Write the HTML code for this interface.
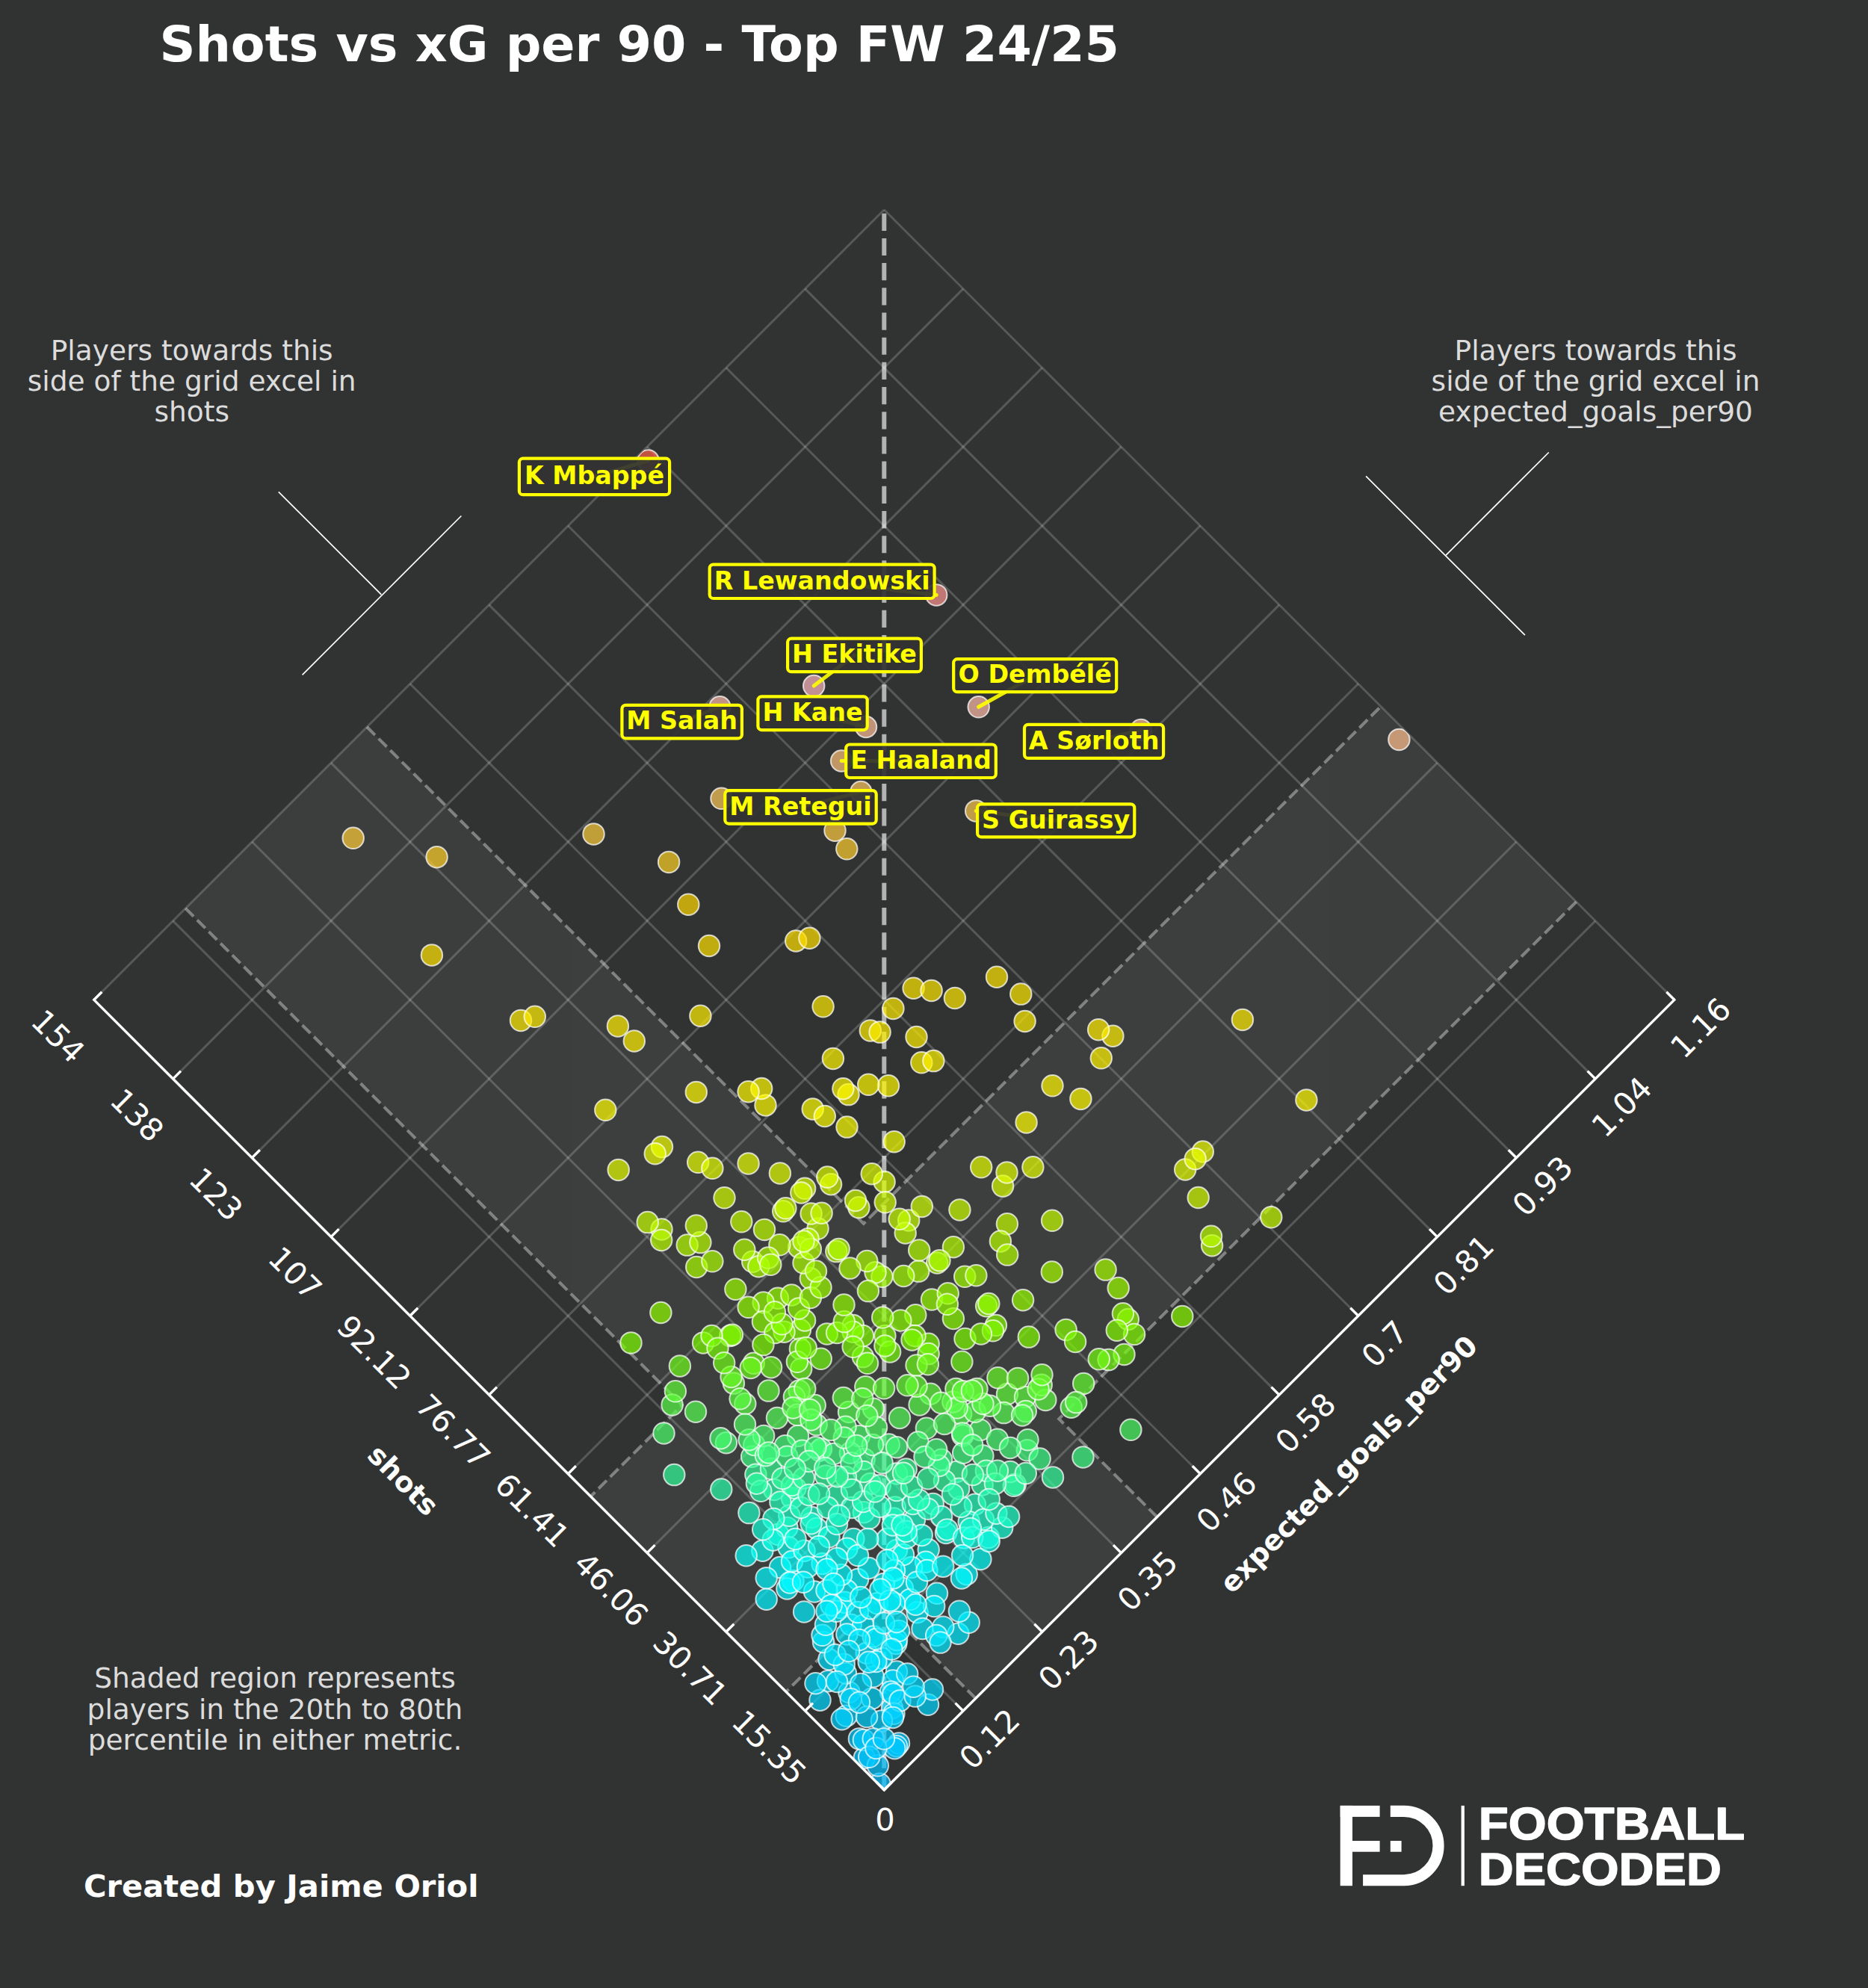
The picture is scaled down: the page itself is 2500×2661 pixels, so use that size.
<!DOCTYPE html>
<html><head><meta charset="utf-8"><title>Shots vs xG per 90</title>
<style>html,body{margin:0;padding:0;background:#313332;}svg{display:block}</style></head>
<body>
<svg width="2500" height="2661" viewBox="0 0 2500 2661">
<rect width="2500" height="2661" fill="#313332"/>
<g opacity="0.056" fill="#fff">
<polygon points="1052.1,2264.6 790.5,2003.0 1848.0,945.5 2109.6,1207.1" />
<polygon points="1305.7,2273.4 1548.6,2030.5 491.1,973.0 248.2,1215.9" />
</g>
<g stroke="#fff" stroke-opacity="0.19" stroke-width="3">
<line x1="1077.5" y1="2290.1" x2="2135.1" y2="1232.6" />
<line x1="1289.0" y1="2290.1" x2="231.5" y2="1232.6" />
<line x1="971.8" y1="2184.3" x2="2029.3" y2="1126.8" />
<line x1="1394.8" y1="2184.3" x2="337.3" y2="1126.8" />
<line x1="866.0" y1="2078.6" x2="1923.5" y2="1021.1" />
<line x1="1500.5" y1="2078.6" x2="443.0" y2="1021.1" />
<line x1="760.3" y1="1972.8" x2="1817.8" y2="915.3" />
<line x1="1606.3" y1="1972.8" x2="548.8" y2="915.3" />
<line x1="654.5" y1="1867.1" x2="1712.0" y2="809.6" />
<line x1="1712.0" y1="1867.1" x2="654.5" y2="809.6" />
<line x1="548.8" y1="1761.3" x2="1606.3" y2="703.8" />
<line x1="1817.8" y1="1761.3" x2="760.3" y2="703.8" />
<line x1="443.0" y1="1655.6" x2="1500.5" y2="598.1" />
<line x1="1923.5" y1="1655.6" x2="866.0" y2="598.1" />
<line x1="337.3" y1="1549.8" x2="1394.8" y2="492.3" />
<line x1="2029.3" y1="1549.8" x2="971.8" y2="492.3" />
<line x1="231.5" y1="1444.1" x2="1289.0" y2="386.6" />
<line x1="2135.1" y1="1444.1" x2="1077.5" y2="386.6" />
<line x1="125.8" y1="1338.3" x2="1183.3" y2="280.8" />
<line x1="2240.8" y1="1338.3" x2="1183.3" y2="280.8" />
</g>
<g stroke="#fff" stroke-opacity="0.37" stroke-width="4.1" stroke-dasharray="15.4 6.7" fill="none">
<polyline points="491.1,973.0 1155.8,1637.8 1848.0,945.5"/>
<polyline points="1548.6,2030.5 1417.3,1899.3 2109.6,1207.1"/>
<polyline points="248.2,1215.9 912.9,1880.7 790.5,2003.0"/>
<polyline points="1305.7,2273.4 1174.4,2142.2 1052.1,2264.6"/>
</g>
<line x1="1183.3" y1="285.7" x2="1183.3" y2="2395.8" stroke="#fff" stroke-opacity="0.63" stroke-width="6" stroke-dasharray="23.2 9.99"/>
<defs><clipPath id="dc"><polygon points="1183.3,2395.8 125.8,1338.3 1183.3,280.8 2240.8,1338.3"/></clipPath></defs>
<g clip-path="url(#dc)" stroke="#fff" stroke-width="2" fill-opacity="0.7" stroke-opacity="0.72">
<circle cx="1173.9" cy="2146.2" r="14.25" fill="#00f3ff"/>
<circle cx="1227.7" cy="2158.2" r="14.25" fill="#00f1ff"/>
<circle cx="1060.0" cy="2005.2" r="14.25" fill="#25feb3"/>
<circle cx="1101.6" cy="1347.3" r="14.25" fill="#ffea00"/>
<circle cx="1008.7" cy="1824.8" r="14.25" fill="#71fc18"/>
<circle cx="1358.8" cy="1986.8" r="14.25" fill="#2dfea3"/>
<circle cx="1248.7" cy="2012.9" r="14.25" fill="#22feba"/>
<circle cx="1136.0" cy="1890.0" r="14.25" fill="#55fd50"/>
<circle cx="1158.3" cy="1856.3" r="14.25" fill="#63fd33"/>
<circle cx="1041.0" cy="1737.7" r="14.25" fill="#97fd00"/>
<circle cx="1109.5" cy="2221.0" r="14.25" fill="#00e3ff"/>
<circle cx="984.4" cy="1725.7" r="14.25" fill="#9cfd00"/>
<circle cx="1142.4" cy="2060.0" r="14.25" fill="#0effe3"/>
<circle cx="1226.5" cy="1388.0" r="14.25" fill="#fff000"/>
<circle cx="1070.9" cy="1780.0" r="14.25" fill="#84fc00"/>
<circle cx="1068.0" cy="1922.0" r="14.25" fill="#48fd6c"/>
<circle cx="1189.7" cy="1933.5" r="14.25" fill="#43fd75"/>
<circle cx="1164.9" cy="1986.0" r="14.25" fill="#2dfea3"/>
<circle cx="1125.2" cy="2152.2" r="14.25" fill="#00f2ff"/>
<circle cx="1136.4" cy="2265.2" r="14.25" fill="#00daff"/>
<circle cx="1291.5" cy="1792.0" r="14.25" fill="#7efc00"/>
<circle cx="1489.4" cy="1386.7" r="14.25" fill="#ffef00"/>
<circle cx="1479.6" cy="1699.6" r="14.25" fill="#a7fd00"/>
<circle cx="1242.7" cy="2074.2" r="14.25" fill="#08ffef"/>
<circle cx="919.7" cy="1666.6" r="14.25" fill="#b6fd00"/>
<circle cx="1247.0" cy="1739.4" r="14.25" fill="#96fd00"/>
<circle cx="1348.0" cy="1866.0" r="14.25" fill="#5ffd3b"/>
<circle cx="1288.4" cy="1921.5" r="14.25" fill="#48fd6b"/>
<circle cx="1155.9" cy="2024.2" r="14.25" fill="#1dfec4"/>
<circle cx="1450.2" cy="1851.9" r="14.25" fill="#65fd2f"/>
<circle cx="1120.0" cy="2002.0" r="14.25" fill="#26feb1"/>
<circle cx="1189.0" cy="1453.3" r="14.25" fill="#fff800"/>
<circle cx="1041.4" cy="2053.9" r="14.25" fill="#10ffdd"/>
<circle cx="1372.0" cy="1870.0" r="14.25" fill="#5efd3f"/>
<circle cx="886.0" cy="1535.1" r="14.25" fill="#f0ff00"/>
<circle cx="1374.8" cy="1941.3" r="14.25" fill="#40fd7c"/>
<circle cx="1373.6" cy="1502.4" r="14.25" fill="#ffff00"/>
<circle cx="921.3" cy="1210.7" r="14.25" fill="#ffd700"/>
<circle cx="1148.0" cy="2114.0" r="14.25" fill="#00faff"/>
<circle cx="1200.0" cy="2075.0" r="14.25" fill="#07fff0"/>
<circle cx="1180.4" cy="1708.8" r="14.25" fill="#a3fd00"/>
<circle cx="1426.6" cy="1779.9" r="14.25" fill="#84fc00"/>
<circle cx="1216.2" cy="1633.4" r="14.25" fill="#c5fe00"/>
<circle cx="1077.1" cy="1767.5" r="14.25" fill="#89fc00"/>
<circle cx="1156.8" cy="2353.1" r="14.25" fill="#00c7ff"/>
<circle cx="1200.0" cy="2237.5" r="14.25" fill="#00e0ff"/>
<circle cx="1130.4" cy="2144.7" r="14.25" fill="#00f4ff"/>
<circle cx="1036.0" cy="1994.0" r="14.25" fill="#29feaa"/>
<circle cx="1053.4" cy="2044.9" r="14.25" fill="#14ffd6"/>
<circle cx="1024.5" cy="1479.4" r="14.25" fill="#fffc00"/>
<circle cx="1086.2" cy="2030.9" r="14.25" fill="#1afeca"/>
<circle cx="1196.3" cy="2032.4" r="14.25" fill="#19fecb"/>
<circle cx="1375.5" cy="1927.2" r="14.25" fill="#46fd70"/>
<circle cx="885.5" cy="1645.4" r="14.25" fill="#c0fe00"/>
<circle cx="1286.1" cy="1892.4" r="14.25" fill="#54fd52"/>
<circle cx="1184.4" cy="1788.0" r="14.25" fill="#80fc00"/>
<circle cx="1509.8" cy="1766.0" r="14.25" fill="#8afc00"/>
<circle cx="1233.3" cy="1422.3" r="14.25" fill="#fff400"/>
<circle cx="1056.3" cy="2028.7" r="14.25" fill="#1bfec8"/>
<circle cx="1006.2" cy="1949.7" r="14.25" fill="#3cfe83"/>
<circle cx="1254.2" cy="1690.4" r="14.25" fill="#acfd00"/>
<circle cx="1194.9" cy="2249.5" r="14.25" fill="#00ddff"/>
<circle cx="1069.6" cy="1861.6" r="14.25" fill="#61fd37"/>
<circle cx="1138.7" cy="2174.7" r="14.25" fill="#00edff"/>
<circle cx="1662.9" cy="1364.9" r="14.25" fill="#ffec00"/>
<circle cx="934.2" cy="1555.8" r="14.25" fill="#e7fe00"/>
<circle cx="1234.5" cy="2179.9" r="14.25" fill="#00ecff"/>
<circle cx="1021.7" cy="1743.4" r="14.25" fill="#94fd00"/>
<circle cx="1070.9" cy="1805.4" r="14.25" fill="#79fc07"/>
<circle cx="1293.7" cy="2107.2" r="14.25" fill="#00fcff"/>
<circle cx="1366.3" cy="1330.6" r="14.25" fill="#ffe800"/>
<circle cx="697.0" cy="1365.9" r="14.25" fill="#ffed00"/>
<circle cx="1062.9" cy="1869.7" r="14.25" fill="#5efd3e"/>
<circle cx="1149.9" cy="1922.2" r="14.25" fill="#48fd6c"/>
<circle cx="1183.6" cy="1582.0" r="14.25" fill="#dcfe00"/>
<circle cx="1069.1" cy="1669.5" r="14.25" fill="#b5fd00"/>
<circle cx="1156.7" cy="1953.0" r="14.25" fill="#3bfe86"/>
<circle cx="1399.3" cy="1873.9" r="14.25" fill="#5cfd42"/>
<circle cx="1187.4" cy="2060.0" r="14.25" fill="#0effe3"/>
<circle cx="1439.1" cy="1796.0" r="14.25" fill="#7dfc00"/>
<circle cx="1203.0" cy="2333.4" r="14.25" fill="#00cbff"/>
<circle cx="1155.2" cy="2175.4" r="14.25" fill="#00edff"/>
<circle cx="844.5" cy="1797.4" r="14.25" fill="#7cfc00"/>
<circle cx="1314.7" cy="1987.5" r="14.25" fill="#2cfea4"/>
<circle cx="1622.1" cy="1667.2" r="14.25" fill="#b6fd00"/>
<circle cx="1135.5" cy="1465.1" r="14.25" fill="#fffa00"/>
<circle cx="1304.9" cy="2013.7" r="14.25" fill="#21febb"/>
<circle cx="953.4" cy="1563.8" r="14.25" fill="#e4fe00"/>
<circle cx="1087.7" cy="1484.4" r="14.25" fill="#fffd00"/>
<circle cx="977.2" cy="1788.0" r="14.25" fill="#80fc00"/>
<circle cx="1277.9" cy="1336.0" r="14.25" fill="#ffe800"/>
<circle cx="1171.5" cy="1703.2" r="14.25" fill="#a6fd00"/>
<circle cx="1043.9" cy="1570.4" r="14.25" fill="#e1fe00"/>
<circle cx="1275.4" cy="1876.4" r="14.25" fill="#5bfd44"/>
<circle cx="1108.0" cy="2018.0" r="14.25" fill="#1ffebe"/>
<circle cx="1106.8" cy="1785.4" r="14.25" fill="#81fc00"/>
<circle cx="1296.7" cy="2036.9" r="14.25" fill="#17fecf"/>
<circle cx="1268.7" cy="1731.3" r="14.25" fill="#99fd00"/>
<circle cx="1306.2" cy="1085.4" r="14.25" fill="#ffc950"/>
<circle cx="1011.4" cy="1973.7" r="14.25" fill="#32fe98"/>
<circle cx="1245.3" cy="1865.7" r="14.25" fill="#5ffd3b"/>
<circle cx="1019.2" cy="1457.0" r="14.25" fill="#fff900"/>
<circle cx="1001.6" cy="1749.8" r="14.25" fill="#91fc00"/>
<circle cx="1102.0" cy="2197.9" r="14.25" fill="#00e8ff"/>
<circle cx="1169.0" cy="1885.7" r="14.25" fill="#57fd4c"/>
<circle cx="1009.3" cy="1933.9" r="14.25" fill="#43fd76"/>
<circle cx="1090.7" cy="1881.0" r="14.25" fill="#59fd48"/>
<circle cx="1128.8" cy="1871.0" r="14.25" fill="#5dfd3f"/>
<circle cx="1133.4" cy="2187.4" r="14.25" fill="#00eaff"/>
<circle cx="1133.4" cy="2129.0" r="14.25" fill="#00f7ff"/>
<circle cx="1023.0" cy="1645.9" r="14.25" fill="#bffe00"/>
<circle cx="1177.7" cy="1988.2" r="14.25" fill="#2cfea5"/>
<circle cx="1032.0" cy="1966.0" r="14.25" fill="#35fe92"/>
<circle cx="876.7" cy="1544.2" r="14.25" fill="#ecff00"/>
<circle cx="1032.1" cy="1830.2" r="14.25" fill="#6efc1c"/>
<circle cx="1504.5" cy="1812.9" r="14.25" fill="#76fc0d"/>
<circle cx="1266.0" cy="2051.9" r="14.25" fill="#11ffdc"/>
<circle cx="1242.6" cy="1798.7" r="14.25" fill="#7bfc01"/>
<circle cx="1249.4" cy="1420.1" r="14.25" fill="#fff400"/>
<circle cx="827.7" cy="1565.9" r="14.25" fill="#e3fe00"/>
<circle cx="1312.0" cy="1914.0" r="14.25" fill="#4bfd65"/>
<circle cx="1133.4" cy="2072.7" r="14.25" fill="#08ffee"/>
<circle cx="1141.8" cy="1773.9" r="14.25" fill="#86fc00"/>
<circle cx="1199.3" cy="2200.0" r="14.25" fill="#00e8ff"/>
<circle cx="1093.0" cy="2045.9" r="14.25" fill="#14ffd7"/>
<circle cx="1109.5" cy="2057.2" r="14.25" fill="#0fffe0"/>
<circle cx="1200.0" cy="1937.2" r="14.25" fill="#41fd79"/>
<circle cx="1094.5" cy="1644.6" r="14.25" fill="#c0fe00"/>
<circle cx="1159.7" cy="2212.7" r="14.25" fill="#00e5ff"/>
<circle cx="1020.4" cy="2075.7" r="14.25" fill="#07fff0"/>
<circle cx="1315.4" cy="1948.5" r="14.25" fill="#3dfe82"/>
<circle cx="1286.2" cy="2016.7" r="14.25" fill="#20febd"/>
<circle cx="1156.0" cy="1970.0" r="14.25" fill="#34fe95"/>
<circle cx="1239.9" cy="1911.8" r="14.25" fill="#4cfd63"/>
<circle cx="1343.4" cy="1891.1" r="14.25" fill="#55fd51"/>
<circle cx="1154.9" cy="1816.1" r="14.25" fill="#74fc10"/>
<circle cx="1168.7" cy="2244.2" r="14.25" fill="#00deff"/>
<circle cx="1004.7" cy="1830.9" r="14.25" fill="#6efc1d"/>
<circle cx="1179.9" cy="2219.5" r="14.25" fill="#00e4ff"/>
<circle cx="1280.0" cy="1970.0" r="14.25" fill="#34fe95"/>
<circle cx="1163.4" cy="2032.4" r="14.25" fill="#19fecb"/>
<circle cx="1018.2" cy="1995.8" r="14.25" fill="#29feab"/>
<circle cx="1065.2" cy="1259.5" r="14.25" fill="#ffde00"/>
<circle cx="1194.0" cy="2286.2" r="14.25" fill="#00d5ff"/>
<circle cx="1077.1" cy="1590.8" r="14.25" fill="#d8fe00"/>
<circle cx="1304.8" cy="1889.7" r="14.25" fill="#55fd50"/>
<circle cx="1007.2" cy="1688.8" r="14.25" fill="#acfd00"/>
<circle cx="1024.9" cy="1948.2" r="14.25" fill="#3dfe82"/>
<circle cx="1154.3" cy="1872.3" r="14.25" fill="#5dfd41"/>
<circle cx="1166.7" cy="1571.2" r="14.25" fill="#e0fe00"/>
<circle cx="979.9" cy="1786.7" r="14.25" fill="#81fc00"/>
<circle cx="1049.5" cy="1782.7" r="14.25" fill="#83fc00"/>
<circle cx="1229.3" cy="1701.6" r="14.25" fill="#a7fd00"/>
<circle cx="1148.0" cy="2158.0" r="14.25" fill="#00f1ff"/>
<circle cx="1044.0" cy="2098.0" r="14.25" fill="#00feff"/>
<circle cx="1152.3" cy="1060.0" r="14.25" fill="#ffc760"/>
<circle cx="1164.8" cy="1379.4" r="14.25" fill="#ffee00"/>
<circle cx="1208.0" cy="2126.0" r="14.25" fill="#00f8ff"/>
<circle cx="1408.5" cy="1453.3" r="14.25" fill="#fff800"/>
<circle cx="1154.9" cy="1788.0" r="14.25" fill="#80fc00"/>
<circle cx="1072.2" cy="1832.2" r="14.25" fill="#6dfc1e"/>
<circle cx="1084.8" cy="1711.3" r="14.25" fill="#a2fd00"/>
<circle cx="1191.9" cy="2264.5" r="14.25" fill="#00daff"/>
<circle cx="1044.4" cy="2010.4" r="14.25" fill="#23feb8"/>
<circle cx="1100.5" cy="2188.8" r="14.25" fill="#00eaff"/>
<circle cx="1108.0" cy="2250.2" r="14.25" fill="#00ddff"/>
<circle cx="963.4" cy="946.3" r="14.25" fill="#ffbaaa"/>
<circle cx="941.1" cy="1797.4" r="14.25" fill="#7cfc00"/>
<circle cx="1097.5" cy="2275.7" r="14.25" fill="#00d7ff"/>
<circle cx="1059.4" cy="1733.4" r="14.25" fill="#98fd00"/>
<circle cx="1282.4" cy="2186.7" r="14.25" fill="#00ebff"/>
<circle cx="1211.7" cy="1650.5" r="14.25" fill="#bdfd00"/>
<circle cx="1279.4" cy="1859.0" r="14.25" fill="#62fd35"/>
<circle cx="1218.0" cy="2140.9" r="14.25" fill="#00f5ff"/>
<circle cx="1141.6" cy="1782.7" r="14.25" fill="#83fc00"/>
<circle cx="1020.9" cy="1769.1" r="14.25" fill="#89fc00"/>
<circle cx="1320.1" cy="1748.2" r="14.25" fill="#92fd00"/>
<circle cx="888.5" cy="1918.5" r="14.25" fill="#49fd68"/>
<circle cx="1225.3" cy="1760.2" r="14.25" fill="#8dfc00"/>
<circle cx="1132.7" cy="2296.7" r="14.25" fill="#00d3ff"/>
<circle cx="1137.9" cy="1944.7" r="14.25" fill="#3efd7f"/>
<circle cx="1332.9" cy="1773.9" r="14.25" fill="#86fc00"/>
<circle cx="1239.0" cy="2090.7" r="14.25" fill="#01fffd"/>
<circle cx="1112.1" cy="1585.2" r="14.25" fill="#dafe00"/>
<circle cx="1061.5" cy="2116.0" r="14.25" fill="#00faff"/>
<circle cx="1200.0" cy="1972.5" r="14.25" fill="#33fe97"/>
<circle cx="1200.0" cy="2337.2" r="14.25" fill="#00caff"/>
<circle cx="1195.5" cy="2267.5" r="14.25" fill="#00d9ff"/>
<circle cx="715.8" cy="1360.8" r="14.25" fill="#ffec00"/>
<circle cx="1220.0" cy="2098.0" r="14.25" fill="#00feff"/>
<circle cx="1393.7" cy="1853.8" r="14.25" fill="#64fd31"/>
<circle cx="1483.6" cy="1820.1" r="14.25" fill="#73fc13"/>
<circle cx="1022.1" cy="1921.9" r="14.25" fill="#48fd6b"/>
<circle cx="1260.0" cy="2030.0" r="14.25" fill="#1afec9"/>
<circle cx="1197.3" cy="2340.2" r="14.25" fill="#00c9ff"/>
<circle cx="1242.6" cy="1812.1" r="14.25" fill="#76fc0d"/>
<circle cx="1069.1" cy="1751.4" r="14.25" fill="#90fc00"/>
<circle cx="866.7" cy="1636.1" r="14.25" fill="#c4fe00"/>
<circle cx="1103.8" cy="1494.0" r="14.25" fill="#fffe00"/>
<circle cx="1212.7" cy="1966.5" r="14.25" fill="#35fe92"/>
<circle cx="1043.4" cy="1666.3" r="14.25" fill="#b6fd00"/>
<circle cx="1196.4" cy="2293.7" r="14.25" fill="#00d3ff"/>
<circle cx="1179.9" cy="2303.4" r="14.25" fill="#00d1ff"/>
<circle cx="1168.0" cy="1934.0" r="14.25" fill="#43fd76"/>
<circle cx="1275.9" cy="1765.0" r="14.25" fill="#8afc00"/>
<circle cx="1015.3" cy="1695.2" r="14.25" fill="#a9fd00"/>
<circle cx="937.4" cy="1663.1" r="14.25" fill="#b8fd00"/>
<circle cx="1096.7" cy="1941.7" r="14.25" fill="#3ffd7d"/>
<circle cx="1287.4" cy="1822.8" r="14.25" fill="#71fc16"/>
<circle cx="1085.5" cy="2039.2" r="14.25" fill="#17fed1"/>
<circle cx="1072.3" cy="1596.4" r="14.25" fill="#d5fe00"/>
<circle cx="1372.8" cy="1889.1" r="14.25" fill="#56fd4f"/>
<circle cx="1352.0" cy="1970.0" r="14.25" fill="#34fe95"/>
<circle cx="1347.9" cy="1638.2" r="14.25" fill="#c3fe00"/>
<circle cx="1172.4" cy="2224.0" r="14.25" fill="#00e3ff"/>
<circle cx="1470.7" cy="1819.3" r="14.25" fill="#73fc13"/>
<circle cx="965.5" cy="1068.8" r="14.25" fill="#ffc85a"/>
<circle cx="1233.8" cy="1614.9" r="14.25" fill="#cdfe00"/>
<circle cx="1433.7" cy="1883.7" r="14.25" fill="#58fd4a"/>
<circle cx="1224.5" cy="1788.0" r="14.25" fill="#80fc00"/>
<circle cx="1149.9" cy="2327.4" r="14.25" fill="#00ccff"/>
<circle cx="1055.5" cy="2071.2" r="14.25" fill="#09ffec"/>
<circle cx="1098.7" cy="1818.8" r="14.25" fill="#73fc12"/>
<circle cx="902.3" cy="1974.1" r="14.25" fill="#32fe98"/>
<circle cx="472.7" cy="1121.8" r="14.25" fill="#ffcd38"/>
<circle cx="1066.9" cy="1893.8" r="14.25" fill="#54fd53"/>
<circle cx="867.6" cy="616.6" r="14.25" fill="#ff6347"/>
<circle cx="1099.0" cy="1939.5" r="14.25" fill="#40fd7b"/>
<circle cx="1037.4" cy="1784.0" r="14.25" fill="#82fc00"/>
<circle cx="1048.2" cy="1621.3" r="14.25" fill="#cafe00"/>
<circle cx="1168.7" cy="2190.4" r="14.25" fill="#00eaff"/>
<circle cx="1100.5" cy="2093.0" r="14.25" fill="#00ffff"/>
<circle cx="1002.4" cy="2025.1" r="14.25" fill="#1cfec5"/>
<circle cx="1140.0" cy="2018.0" r="14.25" fill="#1ffebe"/>
<circle cx="1262.2" cy="2177.7" r="14.25" fill="#00edff"/>
<circle cx="1035.4" cy="2032.9" r="14.25" fill="#19fecb"/>
<circle cx="1182.9" cy="2120.0" r="14.25" fill="#00f9ff"/>
<circle cx="1242.0" cy="2281.7" r="14.25" fill="#00d6ff"/>
<circle cx="1701.3" cy="1629.3" r="14.25" fill="#c7fe00"/>
<circle cx="1283.2" cy="1992.7" r="14.25" fill="#2afea9"/>
<circle cx="1527.0" cy="977.0" r="14.25" fill="#ffbd96"/>
<circle cx="1177.4" cy="2387.8" r="14.25" fill="#00bfff"/>
<circle cx="1105.0" cy="2174.7" r="14.25" fill="#00edff"/>
<circle cx="1513.4" cy="1913.8" r="14.25" fill="#4bfd64"/>
<circle cx="1200.0" cy="2194.9" r="14.25" fill="#00e9ff"/>
<circle cx="1284.4" cy="1619.4" r="14.25" fill="#cbfe00"/>
<circle cx="1253.2" cy="796.4" r="14.25" fill="#ff9691"/>
<circle cx="1183.1" cy="1858.3" r="14.25" fill="#62fd34"/>
<circle cx="1155.9" cy="2328.9" r="14.25" fill="#00ccff"/>
<circle cx="1116.0" cy="1946.0" r="14.25" fill="#3efe80"/>
<circle cx="1066.9" cy="1822.8" r="14.25" fill="#71fc16"/>
<circle cx="1050.8" cy="1935.2" r="14.25" fill="#42fd77"/>
<circle cx="1227.0" cy="2117.7" r="14.25" fill="#00faff"/>
<circle cx="1254.0" cy="2132.7" r="14.25" fill="#00f6ff"/>
<circle cx="909.9" cy="1828.4" r="14.25" fill="#6ffc1b"/>
<circle cx="1324.9" cy="1881.7" r="14.25" fill="#59fd49"/>
<circle cx="1264.0" cy="1982.0" r="14.25" fill="#2ffe9f"/>
<circle cx="1092.7" cy="1907.1" r="14.25" fill="#4efd5f"/>
<circle cx="1342.1" cy="1587.6" r="14.25" fill="#d9fe00"/>
<circle cx="1335.4" cy="1844.2" r="14.25" fill="#68fc28"/>
<circle cx="1076.1" cy="2157.4" r="14.25" fill="#00f1ff"/>
<circle cx="1126.0" cy="2108.0" r="14.25" fill="#00fcff"/>
<circle cx="1197.8" cy="2017.4" r="14.25" fill="#20febe"/>
<circle cx="1126.7" cy="2301.2" r="14.25" fill="#00d2ff"/>
<circle cx="1085.6" cy="1624.5" r="14.25" fill="#c9fe00"/>
<circle cx="1609.8" cy="1541.5" r="14.25" fill="#eeff00"/>
<circle cx="1025.7" cy="2112.2" r="14.25" fill="#00fbff"/>
<circle cx="1446.4" cy="1470.9" r="14.25" fill="#fffb00"/>
<circle cx="1083.4" cy="1255.7" r="14.25" fill="#ffde00"/>
<circle cx="1053.4" cy="2126.5" r="14.25" fill="#00f8ff"/>
<circle cx="1280.7" cy="1884.4" r="14.25" fill="#58fd4b"/>
<circle cx="1322.9" cy="2057.9" r="14.25" fill="#0fffe1"/>
<circle cx="1289.2" cy="1944.7" r="14.25" fill="#3efd7f"/>
<circle cx="1274.9" cy="2000.2" r="14.25" fill="#27feaf"/>
<circle cx="1173.0" cy="1910.5" r="14.25" fill="#4dfd62"/>
<circle cx="931.8" cy="1640.6" r="14.25" fill="#c2fe00"/>
<circle cx="1341.2" cy="2044.7" r="14.25" fill="#14ffd6"/>
<circle cx="1248.0" cy="2261.5" r="14.25" fill="#00daff"/>
<circle cx="1126.1" cy="1018.5" r="14.25" fill="#ffc27b"/>
<circle cx="949.0" cy="1266.0" r="14.25" fill="#ffdf00"/>
<circle cx="1209.0" cy="2081.0" r="14.25" fill="#05fff5"/>
<circle cx="1172.4" cy="2194.0" r="14.25" fill="#00e9ff"/>
<circle cx="1259.3" cy="1877.7" r="14.25" fill="#5afd45"/>
<circle cx="1312.4" cy="2087.0" r="14.25" fill="#02fffa"/>
<circle cx="1167.2" cy="2273.4" r="14.25" fill="#00d8ff"/>
<circle cx="1203.7" cy="1631.8" r="14.25" fill="#c6fe00"/>
<circle cx="1155.2" cy="2009.9" r="14.25" fill="#23feb7"/>
<circle cx="1291.2" cy="1708.8" r="14.25" fill="#a3fd00"/>
<circle cx="1168.7" cy="2327.4" r="14.25" fill="#00ccff"/>
<circle cx="1107.3" cy="1575.6" r="14.25" fill="#defe00"/>
<circle cx="1064.5" cy="1991.9" r="14.25" fill="#2afea8"/>
<circle cx="1131.5" cy="1909.8" r="14.25" fill="#4dfd61"/>
<circle cx="1306.4" cy="1707.2" r="14.25" fill="#a4fd00"/>
<circle cx="1162.7" cy="2224.7" r="14.25" fill="#00e2ff"/>
<circle cx="1267.5" cy="2047.4" r="14.25" fill="#13ffd8"/>
<circle cx="1203.0" cy="2182.9" r="14.25" fill="#00ebff"/>
<circle cx="1334.9" cy="1926.7" r="14.25" fill="#46fd70"/>
<circle cx="1289.9" cy="2058.5" r="14.25" fill="#0effe1"/>
<circle cx="1301.2" cy="2057.8" r="14.25" fill="#0fffe1"/>
<circle cx="1230.6" cy="1880.4" r="14.25" fill="#59fd48"/>
<circle cx="1226.5" cy="1827.5" r="14.25" fill="#6ffc1a"/>
<circle cx="1089.2" cy="918.1" r="14.25" fill="#ffb7bd"/>
<circle cx="1075.5" cy="1690.4" r="14.25" fill="#acfd00"/>
<circle cx="1296.7" cy="2171.7" r="14.25" fill="#00eeff"/>
<circle cx="899.6" cy="1880.4" r="14.25" fill="#59fd48"/>
<circle cx="1131.9" cy="2239.7" r="14.25" fill="#00dfff"/>
<circle cx="981.9" cy="1851.6" r="14.25" fill="#65fd2f"/>
<circle cx="1391.6" cy="1952.6" r="14.25" fill="#3bfe86"/>
<circle cx="997.3" cy="1879.0" r="14.25" fill="#5afd46"/>
<circle cx="1081.6" cy="1658.3" r="14.25" fill="#bafd00"/>
<circle cx="990.6" cy="1872.3" r="14.25" fill="#5dfd41"/>
<circle cx="1518.1" cy="1786.0" r="14.25" fill="#81fc00"/>
<circle cx="1025.7" cy="2140.7" r="14.25" fill="#00f5ff"/>
<circle cx="1120.0" cy="2039.9" r="14.25" fill="#16fed1"/>
<circle cx="1060.0" cy="2090.0" r="14.25" fill="#01fffd"/>
<circle cx="1253.2" cy="2188.9" r="14.25" fill="#00eaff"/>
<circle cx="1028.5" cy="1861.6" r="14.25" fill="#61fd37"/>
<circle cx="1586.2" cy="1565.5" r="14.25" fill="#e3fe00"/>
<circle cx="1076.5" cy="2075.7" r="14.25" fill="#07fff0"/>
<circle cx="1224.0" cy="2034.0" r="14.25" fill="#19fecc"/>
<circle cx="1240.5" cy="2102.0" r="14.25" fill="#00fdff"/>
<circle cx="1316.0" cy="2034.0" r="14.25" fill="#19fecc"/>
<circle cx="1502.9" cy="1758.3" r="14.25" fill="#8dfc00"/>
<circle cx="1081.0" cy="2097.5" r="14.25" fill="#00feff"/>
<circle cx="996.3" cy="1672.7" r="14.25" fill="#b3fd00"/>
<circle cx="1356.8" cy="1988.8" r="14.25" fill="#2cfea5"/>
<circle cx="1352.0" cy="1938.0" r="14.25" fill="#41fd79"/>
<circle cx="1028.1" cy="1683.6" r="14.25" fill="#affd00"/>
<circle cx="1315.5" cy="1879.0" r="14.25" fill="#5afd46"/>
<circle cx="895.1" cy="1153.9" r="14.25" fill="#ffd123"/>
<circle cx="1347.5" cy="1569.4" r="14.25" fill="#e1fe00"/>
<circle cx="1196.7" cy="1528.2" r="14.25" fill="#f4ff00"/>
<circle cx="1213.5" cy="2058.5" r="14.25" fill="#0effe1"/>
<circle cx="1120.1" cy="1784.0" r="14.25" fill="#82fc00"/>
<circle cx="1319.9" cy="1968.7" r="14.25" fill="#34fe94"/>
<circle cx="1046.6" cy="1772.3" r="14.25" fill="#87fc00"/>
<circle cx="1260.0" cy="1953.7" r="14.25" fill="#3afe87"/>
<circle cx="1496.7" cy="1724.1" r="14.25" fill="#9dfd00"/>
<circle cx="1001.6" cy="1461.2" r="14.25" fill="#fff900"/>
<circle cx="885.2" cy="1659.9" r="14.25" fill="#b9fd00"/>
<circle cx="1002.6" cy="1927.2" r="14.25" fill="#46fd70"/>
<circle cx="1133.5" cy="1508.6" r="14.25" fill="#fcff00"/>
<circle cx="1090.0" cy="2130.4" r="14.25" fill="#00f7ff"/>
<circle cx="1205.3" cy="1767.5" r="14.25" fill="#89fc00"/>
<circle cx="1333.4" cy="2025.7" r="14.25" fill="#1cfec5"/>
<circle cx="1204.5" cy="2276.4" r="14.25" fill="#00d7ff"/>
<circle cx="1334.0" cy="1307.7" r="14.25" fill="#ffe500"/>
<circle cx="1177.7" cy="2016.7" r="14.25" fill="#20febd"/>
<circle cx="1288.0" cy="2082.0" r="14.25" fill="#05fff6"/>
<circle cx="1162.7" cy="2099.0" r="14.25" fill="#00feff"/>
<circle cx="932.2" cy="1696.0" r="14.25" fill="#a9fd00"/>
<circle cx="1060.0" cy="1988.0" r="14.25" fill="#2cfea4"/>
<circle cx="1184.7" cy="1609.3" r="14.25" fill="#d0fe00"/>
<circle cx="1160.0" cy="2298.0" r="14.25" fill="#00d3ff"/>
<circle cx="1194.9" cy="2041.4" r="14.25" fill="#16fed3"/>
<circle cx="884.4" cy="1757.0" r="14.25" fill="#8efc00"/>
<circle cx="1160.3" cy="1895.1" r="14.25" fill="#53fd54"/>
<circle cx="1129.7" cy="2227.7" r="14.25" fill="#00e2ff"/>
<circle cx="1332.0" cy="1986.0" r="14.25" fill="#2dfea3"/>
<circle cx="1257.0" cy="1962.0" r="14.25" fill="#37fe8e"/>
<circle cx="1053.4" cy="1949.7" r="14.25" fill="#3cfe83"/>
<circle cx="1072.0" cy="2018.0" r="14.25" fill="#1ffebe"/>
<circle cx="1028.7" cy="1944.5" r="14.25" fill="#3efd7f"/>
<circle cx="1197.0" cy="2102.0" r="14.25" fill="#00fdff"/>
<circle cx="1084.8" cy="1736.9" r="14.25" fill="#97fd00"/>
<circle cx="1275.9" cy="1669.2" r="14.25" fill="#b5fd00"/>
<circle cx="1323.7" cy="2063.0" r="14.25" fill="#0dffe5"/>
<circle cx="1233.7" cy="2054.9" r="14.25" fill="#10ffde"/>
<circle cx="1148.0" cy="2082.0" r="14.25" fill="#05fff6"/>
<circle cx="953.4" cy="1688.3" r="14.25" fill="#acfd00"/>
<circle cx="1389.6" cy="1859.4" r="14.25" fill="#62fd35"/>
<circle cx="992.3" cy="1635.3" r="14.25" fill="#c4fe00"/>
<circle cx="1152.0" cy="2254.0" r="14.25" fill="#00dcff"/>
<circle cx="1197.0" cy="2146.2" r="14.25" fill="#00f3ff"/>
<circle cx="1073.5" cy="1941.7" r="14.25" fill="#3ffd7d"/>
<circle cx="1098.5" cy="1723.3" r="14.25" fill="#9dfd00"/>
<circle cx="1141.6" cy="1802.8" r="14.25" fill="#7afc05"/>
<circle cx="1204.0" cy="1898.0" r="14.25" fill="#52fd57"/>
<circle cx="1099.6" cy="1623.7" r="14.25" fill="#c9fe00"/>
<circle cx="1440.2" cy="1877.1" r="14.25" fill="#5bfd45"/>
<circle cx="1164.9" cy="2152.9" r="14.25" fill="#00f2ff"/>
<circle cx="1228.5" cy="1930.5" r="14.25" fill="#44fd73"/>
<circle cx="1120.0" cy="2086.0" r="14.25" fill="#03fff9"/>
<circle cx="1057.0" cy="2118.5" r="14.25" fill="#00f9ff"/>
<circle cx="1133.3" cy="1136.3" r="14.25" fill="#ffcf2e"/>
<circle cx="1078.7" cy="1804.1" r="14.25" fill="#79fc06"/>
<circle cx="1212.7" cy="2049.7" r="14.25" fill="#12ffda"/>
<circle cx="1120.0" cy="2251.0" r="14.25" fill="#00ddff"/>
<circle cx="1334.9" cy="1968.7" r="14.25" fill="#34fe94"/>
<circle cx="1131.9" cy="1977.0" r="14.25" fill="#31fe9b"/>
<circle cx="1187.4" cy="2088.5" r="14.25" fill="#02fffb"/>
<circle cx="1237.5" cy="1950.0" r="14.25" fill="#3cfe84"/>
<circle cx="1376.8" cy="1789.6" r="14.25" fill="#80fc00"/>
<circle cx="1191.1" cy="1809.4" r="14.25" fill="#77fc0a"/>
<circle cx="1407.8" cy="1702.5" r="14.25" fill="#a6fd00"/>
<circle cx="1075.7" cy="1978.5" r="14.25" fill="#30fe9c"/>
<circle cx="1182.9" cy="2172.4" r="14.25" fill="#00eeff"/>
<circle cx="1222.6" cy="1322.7" r="14.25" fill="#ffe700"/>
<circle cx="1603.7" cy="1603.0" r="14.25" fill="#d2fe00"/>
<circle cx="1082.5" cy="2000.9" r="14.25" fill="#27feb0"/>
<circle cx="1174.8" cy="2363.3" r="14.25" fill="#00c4ff"/>
<circle cx="1139.4" cy="1958.2" r="14.25" fill="#39fe8b"/>
<circle cx="1195.5" cy="2112.5" r="14.25" fill="#00fbff"/>
<circle cx="1194.9" cy="2298.9" r="14.25" fill="#00d2ff"/>
<circle cx="1369.1" cy="1740.2" r="14.25" fill="#95fd00"/>
<circle cx="1350.1" cy="2030.0" r="14.25" fill="#1afec9"/>
<circle cx="1193.4" cy="2207.5" r="14.25" fill="#00e6ff"/>
<circle cx="1119.2" cy="2156.7" r="14.25" fill="#00f1ff"/>
<circle cx="1159.0" cy="973.0" r="14.25" fill="#ffbd99"/>
<circle cx="1250.2" cy="2149.9" r="14.25" fill="#00f3ff"/>
<circle cx="1288.1" cy="1918.5" r="14.25" fill="#49fd68"/>
<circle cx="1140.0" cy="1994.0" r="14.25" fill="#29feaa"/>
<circle cx="1040.0" cy="1898.0" r="14.25" fill="#52fd57"/>
<circle cx="1338.9" cy="1661.5" r="14.25" fill="#b8fd00"/>
<circle cx="971.9" cy="1931.2" r="14.25" fill="#44fd73"/>
<circle cx="1096.0" cy="2070.0" r="14.25" fill="#0affeb"/>
<circle cx="1149.4" cy="1616.2" r="14.25" fill="#ccfe00"/>
<circle cx="1221.7" cy="2012.9" r="14.25" fill="#22feba"/>
<circle cx="1242.0" cy="2019.7" r="14.25" fill="#1ffec0"/>
<circle cx="1047.4" cy="1979.0" r="14.25" fill="#30fe9d"/>
<circle cx="997.0" cy="1906.5" r="14.25" fill="#4efd5e"/>
<circle cx="1160.3" cy="1688.0" r="14.25" fill="#adfd00"/>
<circle cx="1226.5" cy="1855.6" r="14.25" fill="#64fd32"/>
<circle cx="1149.9" cy="2194.9" r="14.25" fill="#00e9ff"/>
<circle cx="1180.7" cy="1958.2" r="14.25" fill="#39fe8b"/>
<circle cx="1371.6" cy="1367.0" r="14.25" fill="#ffed00"/>
<circle cx="998.7" cy="2082.2" r="14.25" fill="#04fff6"/>
<circle cx="1253.2" cy="1940.2" r="14.25" fill="#40fd7b"/>
<circle cx="1091.5" cy="1937.2" r="14.25" fill="#41fd79"/>
<circle cx="1200.0" cy="1994.9" r="14.25" fill="#29feab"/>
<circle cx="1021.4" cy="1800.1" r="14.25" fill="#7bfc02"/>
<circle cx="1307.5" cy="1859.0" r="14.25" fill="#62fd35"/>
<circle cx="1161.0" cy="1824.8" r="14.25" fill="#71fc18"/>
<circle cx="952.5" cy="1788.0" r="14.25" fill="#80fc00"/>
<circle cx="1012.9" cy="1985.7" r="14.25" fill="#2dfea3"/>
<circle cx="1621.0" cy="1654.8" r="14.25" fill="#bbfd00"/>
<circle cx="1394.5" cy="1840.2" r="14.25" fill="#6afc25"/>
<circle cx="1323.3" cy="1745.0" r="14.25" fill="#93fd00"/>
<circle cx="1582.3" cy="1761.9" r="14.25" fill="#8cfc00"/>
<circle cx="826.9" cy="1373.4" r="14.25" fill="#ffee00"/>
<circle cx="1301.2" cy="1934.2" r="14.25" fill="#43fd76"/>
<circle cx="969.5" cy="1603.3" r="14.25" fill="#d2fe00"/>
<circle cx="1230.2" cy="1673.5" r="14.25" fill="#b3fd00"/>
<circle cx="1129.7" cy="1924.5" r="14.25" fill="#47fd6e"/>
<circle cx="1084.8" cy="1671.9" r="14.25" fill="#b4fd00"/>
<circle cx="978.6" cy="1842.9" r="14.25" fill="#69fc27"/>
<circle cx="1075.5" cy="1661.5" r="14.25" fill="#b8fd00"/>
<circle cx="794.5" cy="1116.4" r="14.25" fill="#ffcd3b"/>
<circle cx="1077.3" cy="1859.0" r="14.25" fill="#62fd35"/>
<circle cx="1082.5" cy="1956.0" r="14.25" fill="#39fe89"/>
<circle cx="1473.8" cy="1416.3" r="14.25" fill="#fff300"/>
<circle cx="931.8" cy="1461.9" r="14.25" fill="#fffa00"/>
<circle cx="1309.7" cy="946.3" r="14.25" fill="#ffbaaa"/>
<circle cx="1267.9" cy="1745.8" r="14.25" fill="#93fd00"/>
<circle cx="577.9" cy="1278.4" r="14.25" fill="#ffe100"/>
<circle cx="1145.0" cy="1606.9" r="14.25" fill="#d1fe00"/>
<circle cx="1214.5" cy="1854.3" r="14.25" fill="#64fd31"/>
<circle cx="1209.3" cy="1708.0" r="14.25" fill="#a4fd00"/>
<circle cx="1117.7" cy="2215.0" r="14.25" fill="#00e5ff"/>
<circle cx="1362.1" cy="1844.9" r="14.25" fill="#68fc29"/>
<circle cx="1408.1" cy="1633.8" r="14.25" fill="#c5fe00"/>
<circle cx="1163.2" cy="2351.8" r="14.25" fill="#00c7ff"/>
<circle cx="1230.0" cy="2007.7" r="14.25" fill="#24feb6"/>
<circle cx="960.5" cy="1804.8" r="14.25" fill="#79fc06"/>
<circle cx="810.3" cy="1485.8" r="14.25" fill="#fffd00"/>
<circle cx="1106.5" cy="2100.5" r="14.25" fill="#00fdff"/>
<circle cx="1146.2" cy="1935.0" r="14.25" fill="#42fd77"/>
<circle cx="1105.0" cy="1975.5" r="14.25" fill="#31fe9a"/>
<circle cx="848.8" cy="1393.5" r="14.25" fill="#fff000"/>
<circle cx="1313.2" cy="1562.3" r="14.25" fill="#e4fe00"/>
<circle cx="1264.0" cy="1906.0" r="14.25" fill="#4efd5e"/>
<circle cx="931.0" cy="1889.7" r="14.25" fill="#55fd50"/>
<circle cx="1075.0" cy="2117.7" r="14.25" fill="#00faff"/>
<circle cx="1061.5" cy="1884.4" r="14.25" fill="#58fd4b"/>
<circle cx="1092.0" cy="1701.6" r="14.25" fill="#a7fd00"/>
<circle cx="1117.5" cy="1111.7" r="14.25" fill="#ffcc3e"/>
<circle cx="1001.6" cy="1557.4" r="14.25" fill="#e7fe00"/>
<circle cx="1138.7" cy="2274.2" r="14.25" fill="#00d8ff"/>
<circle cx="903.9" cy="1862.3" r="14.25" fill="#61fd38"/>
<circle cx="1177.6" cy="1381.6" r="14.25" fill="#ffef00"/>
<circle cx="1191.2" cy="2142.4" r="14.25" fill="#00f4ff"/>
<circle cx="1494.8" cy="1780.7" r="14.25" fill="#83fc00"/>
<circle cx="1162.2" cy="1451.8" r="14.25" fill="#fff800"/>
<circle cx="1328.9" cy="1781.3" r="14.25" fill="#83fc00"/>
<circle cx="1170.9" cy="1996.4" r="14.25" fill="#28feac"/>
<circle cx="1220.0" cy="1990.0" r="14.25" fill="#2bfea6"/>
<circle cx="1312.9" cy="1785.4" r="14.25" fill="#81fc00"/>
<circle cx="1195.4" cy="1349.9" r="14.25" fill="#ffea00"/>
<circle cx="1382.4" cy="1562.3" r="14.25" fill="#e4fe00"/>
<circle cx="1257.5" cy="1687.2" r="14.25" fill="#adfd00"/>
<circle cx="1119.3" cy="1675.1" r="14.25" fill="#b2fd00"/>
<circle cx="1409.0" cy="1977.4" r="14.25" fill="#30fe9b"/>
<circle cx="1262.2" cy="2096.7" r="14.25" fill="#00feff"/>
<circle cx="1096.0" cy="1999.4" r="14.25" fill="#27feae"/>
<circle cx="1036.9" cy="1756.2" r="14.25" fill="#8efc00"/>
<circle cx="1123.0" cy="2028.7" r="14.25" fill="#1bfec8"/>
<circle cx="1323.7" cy="2006.9" r="14.25" fill="#24feb5"/>
<circle cx="1470.1" cy="1378.2" r="14.25" fill="#ffee00"/>
<circle cx="1449.5" cy="1950.4" r="14.25" fill="#3cfe84"/>
<circle cx="1372.8" cy="1972.1" r="14.25" fill="#33fe97"/>
<circle cx="1149.9" cy="2278.7" r="14.25" fill="#00d7ff"/>
<circle cx="1085.4" cy="1900.4" r="14.25" fill="#51fd59"/>
<circle cx="965.3" cy="1993.6" r="14.25" fill="#2afea9"/>
<circle cx="1129.8" cy="1769.1" r="14.25" fill="#89fc00"/>
<circle cx="1283.9" cy="2156.7" r="14.25" fill="#00f1ff"/>
<circle cx="1209.0" cy="1971.7" r="14.25" fill="#33fe96"/>
<circle cx="1051.4" cy="1617.3" r="14.25" fill="#ccfe00"/>
<circle cx="1242.0" cy="1979.2" r="14.25" fill="#30fe9d"/>
<circle cx="1161.2" cy="2060.0" r="14.25" fill="#0effe3"/>
<circle cx="1120.7" cy="1976.2" r="14.25" fill="#31fe9a"/>
<circle cx="1034.7" cy="2061.4" r="14.25" fill="#0dffe4"/>
<circle cx="1368.1" cy="1894.4" r="14.25" fill="#53fd54"/>
<circle cx="937.4" cy="1359.7" r="14.25" fill="#ffec00"/>
<circle cx="1064.5" cy="2060.0" r="14.25" fill="#0effe3"/>
<circle cx="1136.0" cy="2210.0" r="14.25" fill="#00e6ff"/>
<circle cx="1200.0" cy="2170.9" r="14.25" fill="#00eeff"/>
<circle cx="1301.9" cy="1974.0" r="14.25" fill="#32fe98"/>
<circle cx="1106.5" cy="2129.0" r="14.25" fill="#00f7ff"/>
<circle cx="1286.9" cy="2112.5" r="14.25" fill="#00fbff"/>
<circle cx="1152.0" cy="2138.0" r="14.25" fill="#00f5ff"/>
<circle cx="1258.5" cy="2198.6" r="14.25" fill="#00e8ff"/>
<circle cx="1288.8" cy="1862.3" r="14.25" fill="#61fd38"/>
<circle cx="964.5" cy="1925.2" r="14.25" fill="#46fd6e"/>
<circle cx="1021.2" cy="2047.2" r="14.25" fill="#13ffd8"/>
<circle cx="1137.5" cy="1697.6" r="14.25" fill="#a8fd00"/>
<circle cx="1114.9" cy="1416.9" r="14.25" fill="#fff300"/>
<circle cx="1031.3" cy="1692.8" r="14.25" fill="#aafd00"/>
<circle cx="1298.9" cy="2045.9" r="14.25" fill="#14ffd7"/>
<circle cx="1122.6" cy="1671.9" r="14.25" fill="#b4fd00"/>
<circle cx="1091.5" cy="2253.2" r="14.25" fill="#00dcff"/>
<circle cx="1112.5" cy="2148.4" r="14.25" fill="#00f3ff"/>
<circle cx="1225.5" cy="2147.7" r="14.25" fill="#00f3ff"/>
<circle cx="1115.5" cy="2120.0" r="14.25" fill="#00f9ff"/>
<circle cx="1214.2" cy="2240.5" r="14.25" fill="#00dfff"/>
<circle cx="1084.0" cy="1887.1" r="14.25" fill="#56fd4d"/>
<circle cx="1246.6" cy="1325.9" r="14.25" fill="#ffe700"/>
<circle cx="1104.2" cy="1965.0" r="14.25" fill="#36fe91"/>
<circle cx="1128.4" cy="1457.2" r="14.25" fill="#fff900"/>
<circle cx="1181.2" cy="1763.4" r="14.25" fill="#8bfc00"/>
<circle cx="1599.7" cy="1551.2" r="14.25" fill="#e9ff00"/>
<circle cx="584.6" cy="1147.2" r="14.25" fill="#ffd027"/>
<circle cx="1178.4" cy="2127.5" r="14.25" fill="#00f7ff"/>
<circle cx="1112.0" cy="1914.0" r="14.25" fill="#4bfd65"/>
<circle cx="1129.5" cy="1746.6" r="14.25" fill="#93fd00"/>
<circle cx="1184.4" cy="1801.4" r="14.25" fill="#7afc03"/>
<circle cx="1161.9" cy="1728.1" r="14.25" fill="#9bfd00"/>
<circle cx="1106.5" cy="2156.7" r="14.25" fill="#00f1ff"/>
<circle cx="1224.7" cy="2270.4" r="14.25" fill="#00d8ff"/>
<circle cx="1172.4" cy="2340.0" r="14.25" fill="#00c9ff"/>
<circle cx="969.2" cy="1824.2" r="14.25" fill="#71fc17"/>
<circle cx="1220.5" cy="1793.4" r="14.25" fill="#7efc00"/>
<circle cx="1300.8" cy="1861.6" r="14.25" fill="#61fd37"/>
<circle cx="1182.9" cy="2327.4" r="14.25" fill="#00ccff"/>
<circle cx="1872.4" cy="989.9" r="14.25" fill="#ffbf8e"/>
<circle cx="1748.4" cy="1472.4" r="14.25" fill="#fffb00"/>
<circle cx="1222.5" cy="2257.7" r="14.25" fill="#00dbff"/>
<circle cx="1207.5" cy="2041.4" r="14.25" fill="#16fed3"/>
<circle cx="1348.2" cy="1679.6" r="14.25" fill="#b0fd00"/>
<circle cx="1064.0" cy="1966.0" r="14.25" fill="#35fe92"/>
<circle cx="1241.9" cy="1826.2" r="14.25" fill="#70fc19"/>
</g>
<g stroke="#fff" stroke-width="3.4" stroke-linecap="square" fill="none">
<line x1="1183.3" y1="2395.8" x2="125.8" y2="1338.3" />
<line x1="1183.3" y1="2395.8" x2="2240.8" y2="1338.3" />
<line x1="1183.3" y1="2395.8" x2="1193.8" y2="2385.3" stroke-linecap="butt"/>
<line x1="1183.3" y1="2395.8" x2="1172.8" y2="2385.3" stroke-linecap="butt"/>
<line x1="1077.5" y1="2290.1" x2="1088.0" y2="2279.6" stroke-linecap="butt"/>
<line x1="1289.0" y1="2290.1" x2="1278.5" y2="2279.6" stroke-linecap="butt"/>
<line x1="971.8" y1="2184.3" x2="982.3" y2="2173.8" stroke-linecap="butt"/>
<line x1="1394.8" y1="2184.3" x2="1384.3" y2="2173.8" stroke-linecap="butt"/>
<line x1="866.0" y1="2078.6" x2="876.5" y2="2068.1" stroke-linecap="butt"/>
<line x1="1500.5" y1="2078.6" x2="1490.0" y2="2068.1" stroke-linecap="butt"/>
<line x1="760.3" y1="1972.8" x2="770.8" y2="1962.3" stroke-linecap="butt"/>
<line x1="1606.3" y1="1972.8" x2="1595.8" y2="1962.3" stroke-linecap="butt"/>
<line x1="654.5" y1="1867.1" x2="665.0" y2="1856.6" stroke-linecap="butt"/>
<line x1="1712.0" y1="1867.1" x2="1701.5" y2="1856.6" stroke-linecap="butt"/>
<line x1="548.8" y1="1761.3" x2="559.3" y2="1750.8" stroke-linecap="butt"/>
<line x1="1817.8" y1="1761.3" x2="1807.3" y2="1750.8" stroke-linecap="butt"/>
<line x1="443.0" y1="1655.6" x2="453.5" y2="1645.1" stroke-linecap="butt"/>
<line x1="1923.5" y1="1655.6" x2="1913.0" y2="1645.1" stroke-linecap="butt"/>
<line x1="337.3" y1="1549.8" x2="347.8" y2="1539.3" stroke-linecap="butt"/>
<line x1="2029.3" y1="1549.8" x2="2018.8" y2="1539.3" stroke-linecap="butt"/>
<line x1="231.5" y1="1444.1" x2="242.0" y2="1433.6" stroke-linecap="butt"/>
<line x1="2135.1" y1="1444.1" x2="2124.6" y2="1433.6" stroke-linecap="butt"/>
<line x1="125.8" y1="1338.3" x2="136.3" y2="1327.8" stroke-linecap="butt"/>
<line x1="2240.8" y1="1338.3" x2="2230.3" y2="1327.8" stroke-linecap="butt"/>
</g>
<g font-family="DejaVu Sans, Liberation Sans, sans-serif" font-size="41.67" fill="#fff" text-anchor="middle">
<text x="1184.5" y="2449.5">0</text>
<text transform="translate(1029.8,2338.6) rotate(45)" y="15">15.35</text>
<text transform="translate(1324.0,2327.4) rotate(-45)" y="15">0.12</text>
<text transform="translate(924.0,2232.8) rotate(45)" y="15">30.71</text>
<text transform="translate(1429.8,2221.6) rotate(-45)" y="15">0.23</text>
<text transform="translate(818.2,2127.1) rotate(45)" y="15">46.06</text>
<text transform="translate(1535.5,2115.9) rotate(-45)" y="15">0.35</text>
<text transform="translate(712.5,2021.3) rotate(45)" y="15">61.41</text>
<text transform="translate(1641.3,2010.1) rotate(-45)" y="15">0.46</text>
<text transform="translate(606.8,1915.6) rotate(45)" y="15">76.77</text>
<text transform="translate(1747.0,1904.4) rotate(-45)" y="15">0.58</text>
<text transform="translate(501.0,1809.8) rotate(45)" y="15">92.12</text>
<text transform="translate(1852.8,1798.6) rotate(-45)" y="15">0.7</text>
<text transform="translate(395.2,1704.1) rotate(45)" y="15">107</text>
<text transform="translate(1958.5,1692.9) rotate(-45)" y="15">0.81</text>
<text transform="translate(289.5,1598.3) rotate(45)" y="15">123</text>
<text transform="translate(2064.3,1587.1) rotate(-45)" y="15">0.93</text>
<text transform="translate(183.7,1492.6) rotate(45)" y="15">138</text>
<text transform="translate(2170.1,1481.4) rotate(-45)" y="15">1.04</text>
<text transform="translate(78.0,1386.8) rotate(45)" y="15">154</text>
<text transform="translate(2275.8,1375.6) rotate(-45)" y="15">1.16</text>
</g>
<g font-family="DejaVu Sans, Liberation Sans, sans-serif" font-size="37.5" font-weight="bold" fill="#fff" text-anchor="middle">
<text transform="translate(539.5,1981.3) rotate(45)" y="13">shots</text>
<text transform="translate(1805,1960) rotate(-45)" y="13">expected_goals_per90</text>
</g>
<text x="213.4" y="82.4" font-family="DejaVu Sans, Liberation Sans, sans-serif" font-size="66.67" font-weight="bold" fill="#fff">Shots vs xG per 90 - Top FW 24/25</text>
<g font-family="DejaVu Sans, Liberation Sans, sans-serif" font-size="37.5" fill="#dcdcdc" text-anchor="middle">
<text x="256.7" y="481.9">Players towards this</text>
<text x="256.7" y="523.1">side of the grid excel in</text>
<text x="256.7" y="564.4">shots</text>
<text x="2135.5" y="481.9">Players towards this</text>
<text x="2135.5" y="523.1">side of the grid excel in</text>
<text x="2135.5" y="564.4">expected_goals_per90</text>
<text x="368" y="2259.4">Shaded region represents</text>
<text x="368" y="2300.8">players in the 20th to 80th</text>
<text x="368" y="2342.2">percentile in either metric.</text>
</g>
<text x="111.9" y="2538.9" font-family="DejaVu Sans, Liberation Sans, sans-serif" font-size="41.67" font-weight="bold" fill="#fff">Created by Jaime Oriol</text>
<g stroke="#fff" stroke-width="1.7">
<line x1="404.6" y1="903.3" x2="617.4" y2="690.5" />
<line x1="372.8" y1="658.3" x2="510.3" y2="795.8" />
<line x1="1828.1" y1="637.3" x2="2040.9" y2="850.1" />
<line x1="2072.8" y1="605.5" x2="1934.9" y2="743.3" />
</g>
<g stroke="#ffff00" stroke-width="5" stroke-opacity="0.9" stroke-linecap="round">
<line x1="867.6" y1="616.6" x2="795.5" y2="638.0"/>
<line x1="1253.2" y1="796.4" x2="1100.2" y2="778.3"/>
<line x1="1089.2" y1="918.1" x2="1143.5" y2="877.0"/>
<line x1="1309.7" y1="946.3" x2="1385.2" y2="904.2"/>
<line x1="963.4" y1="946.3" x2="912.6" y2="966.0"/>
<line x1="1159.0" y1="973.0" x2="1087.5" y2="954.7"/>
<line x1="1126.1" y1="1018.5" x2="1232.5" y2="1018.8"/>
<line x1="1527.0" y1="977.0" x2="1464.1" y2="992.4"/>
<line x1="1152.3" y1="1060.0" x2="1071.5" y2="1080.3"/>
<line x1="1306.2" y1="1085.4" x2="1413.2" y2="1098.3"/>
</g>
<g font-family="DejaVu Sans, Liberation Sans, sans-serif" font-size="33.3" font-weight="bold" text-anchor="middle">
<rect x="694.9" y="613.7" width="201.2" height="48.5" rx="5" fill="#313332" fill-opacity="0.93" stroke="#ffff00" stroke-width="4.2"/>
<text x="795.5" y="648.2" fill="#ffff00">K Mbappé</text>
<rect x="949.7" y="755.6" width="300.9" height="45.4" rx="5" fill="#313332" fill-opacity="0.93" stroke="#ffff00" stroke-width="4.2"/>
<text x="1100.2" y="788.5" fill="#ffff00">R Lewandowski</text>
<rect x="1054.1" y="854.7" width="178.8" height="44.5" rx="5" fill="#313332" fill-opacity="0.93" stroke="#ffff00" stroke-width="4.2"/>
<text x="1143.5" y="887.2" fill="#ffff00">H Ekitike</text>
<rect x="1276.2" y="882.2" width="218.0" height="44.0" rx="5" fill="#313332" fill-opacity="0.93" stroke="#ffff00" stroke-width="4.2"/>
<text x="1385.2" y="914.4" fill="#ffff00">O Dembélé</text>
<rect x="832.4" y="943.8" width="160.5" height="44.5" rx="5" fill="#313332" fill-opacity="0.93" stroke="#ffff00" stroke-width="4.2"/>
<text x="912.6" y="976.2" fill="#ffff00">M Salah</text>
<rect x="1014.4" y="932.3" width="146.3" height="44.8" rx="5" fill="#313332" fill-opacity="0.93" stroke="#ffff00" stroke-width="4.2"/>
<text x="1087.5" y="964.9" fill="#ffff00">H Kane</text>
<rect x="1132.2" y="996.5" width="200.6" height="44.5" rx="5" fill="#313332" fill-opacity="0.93" stroke="#ffff00" stroke-width="4.2"/>
<text x="1232.5" y="1029.0" fill="#ffff00">E Haaland</text>
<rect x="1371.0" y="969.8" width="186.1" height="45.1" rx="5" fill="#313332" fill-opacity="0.93" stroke="#ffff00" stroke-width="4.2"/>
<text x="1464.1" y="1002.6" fill="#ffff00">A Sørloth</text>
<rect x="970.3" y="1058.1" width="202.4" height="44.5" rx="5" fill="#313332" fill-opacity="0.93" stroke="#ffff00" stroke-width="4.2"/>
<text x="1071.5" y="1090.5" fill="#ffff00">M Retegui</text>
<rect x="1308.1" y="1076.3" width="210.2" height="44.0" rx="5" fill="#313332" fill-opacity="0.93" stroke="#ffff00" stroke-width="4.2"/>
<text x="1413.2" y="1108.5" fill="#ffff00">S Guirassy</text>
</g>
<g fill="#fff">
<rect x="1793.7" y="2416.9" width="16.3" height="107.3"/>
<rect x="1793.7" y="2416.9" width="52.9" height="15"/>
<rect x="1809" y="2464" width="37.6" height="14.7"/>
<rect x="1860.8" y="2464" width="14.8" height="14.7"/>
<rect x="1955.6" y="2416.9" width="4.3" height="107.3"/>
</g>
<path d="M1860.8,2424.4 H1878.9 A46.15,46.15 0 0 1 1878.9,2516.7 H1824.1" fill="none" stroke="#fff" stroke-width="15.1"/>
<g font-family="Liberation Sans, sans-serif" font-weight="bold" font-size="61.3" fill="#fff" stroke="#fff" stroke-width="1.4" stroke-linejoin="round">
<text x="1978.7" y="2462.1" textLength="356.6" lengthAdjust="spacingAndGlyphs">FOOTBALL</text>
<text x="1978.7" y="2523.1" textLength="325.2" lengthAdjust="spacingAndGlyphs">DECODED</text>
</g>
</svg>
</body></html>
